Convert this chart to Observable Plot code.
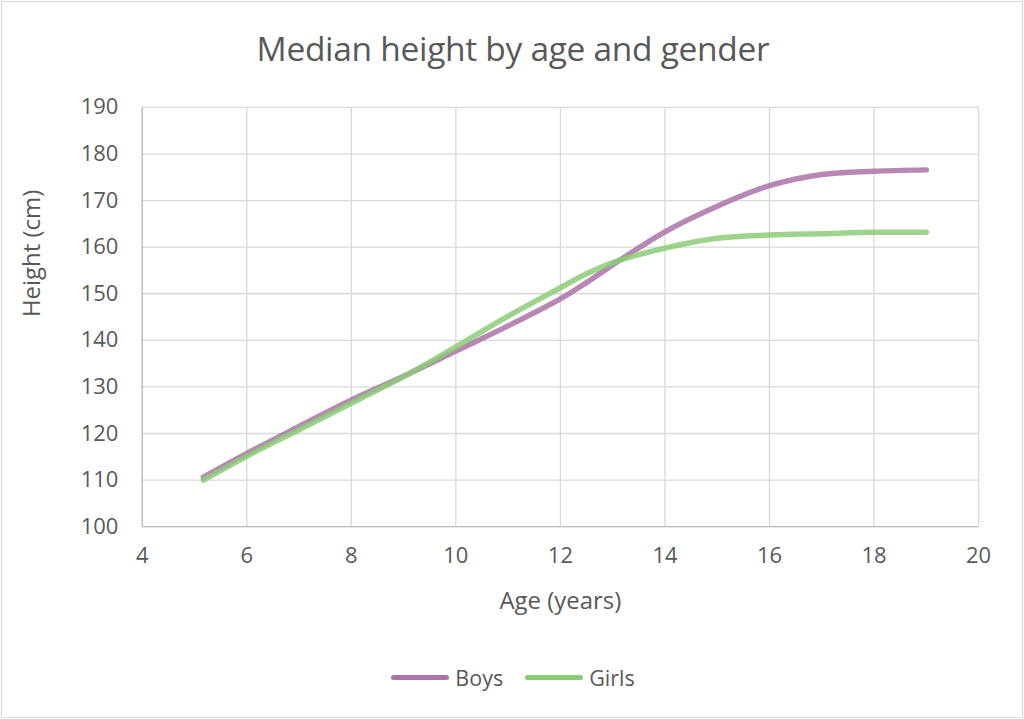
<!DOCTYPE html>
<html>
<head>
<meta charset="utf-8">
<script src="https://cdn.jsdelivr.net/npm/d3@7"></script>
<script src="https://cdn.jsdelivr.net/npm/@observablehq/plot@0.6"></script>
<style>
  html, body { margin: 0; padding: 0; background: #fff; }
  #wrap { position: relative; width: 1020px; height: 715px; margin: 1px 0 0 1px; border: 1px solid #d9d9d9; overflow: hidden; font-family: "Open Sans", sans-serif; color: #595959; }
  #title { position: absolute; left: 0; top: 0; width: 1022px; height: 92px; text-align: center; font-size: 33.5px; line-height: 92px; letter-spacing: -0.3px; }
  #chart { position: absolute; left: -2px; top: 88px; }
  #legend { position: absolute; left: 0; top: 660px; width: 1022px; height: 30px; display: flex; justify-content: center; align-items: center; font-size: 21.5px; }
  .item { display: flex; align-items: center; margin: 0 11px; }
  .swatch { width: 58px; height: 5px; border-radius: 3px; margin-right: 6px; }
</style>
</head>
<body>
<div id="wrap">
  <div id="title">Median height by age and gender</div>
  <div id="chart"></div>
  <div id="legend"></div>
</div>
<script>
const series = ["Boys", "Girls"];
const colors = ["#ab73a8", "#8ccb75"];
const ages  = [5.17, 6, 7, 8, 9, 10, 11, 12, 12.5, 13, 14, 15, 16, 17, 18, 19];
const boys  = [110.6, 115.7, 121.5, 127.2, 132.3, 137.7, 143.1, 148.9, 152.4, 156.2, 163.3, 168.8, 173.2, 175.6, 176.3, 176.6];
const girls = [110.0, 115.1, 120.8, 126.5, 132.2, 138.6, 145.2, 151.3, 154.3, 156.7, 159.8, 161.9, 162.6, 162.9, 163.2, 163.2];
const xTicks = [4, 6, 8, 10, 12, 14, 16, 18, 20];
const yTicks = [100, 110, 120, 130, 140, 150, 160, 170, 180, 190];

const data = [
  ...ages.map((a, i) => ({age: a, height: boys[i], gender: series[0]})),
  ...ages.map((a, i) => ({age: a, height: girls[i], gender: series[1]}))
];

const chart = Plot.plot({
  width: 1024,
  height: 540,
  marginLeft: 142,
  marginRight: 44,
  marginTop: 17,
  marginBottom: 103,
  style: { fontFamily: "Open Sans, sans-serif", color: "#595959", background: "transparent" },
  x: { domain: [4, 20] },
  y: { domain: [100, 190] },
  color: { domain: series, range: colors },
  marks: [
    Plot.gridX(xTicks, { stroke: "#d9d9d9", strokeOpacity: 1, strokeWidth: 1.3 }),
    Plot.gridY(yTicks, { stroke: "#d9d9d9", strokeOpacity: 1, strokeWidth: 1.3 }),
    Plot.ruleX([4], { stroke: "#bfbfbf", strokeWidth: 1.3 }),
    Plot.ruleY([100], { stroke: "#bfbfbf", strokeWidth: 1.3 }),
    Plot.axisX(xTicks, { tickSize: 0, tickPadding: 21, fontSize: 22, label: null, fill: "#595959" }),
    Plot.axisY(yTicks, { tickSize: 0, tickPadding: 24, fontSize: 22, label: null, fill: "#595959" }),
    Plot.text(["Age (years)"], { frameAnchor: "bottom", dy: 75, fontSize: 24, fill: "#595959", lineAnchor: "middle" }),
    Plot.text(["Height (cm)"], { frameAnchor: "left", dx: -110, rotate: -90, fontSize: 24, fill: "#595959" }),
    Plot.line(data, { x: "age", y: "height", stroke: "gender", z: "gender", curve: "catmull-rom", strokeWidth: 5.5, strokeLinecap: "round", strokeOpacity: 0.85 })
  ]
});
document.getElementById("chart").appendChild(chart);

const legend = document.getElementById("legend");
series.forEach((s, i) => {
  const item = document.createElement("div");
  item.className = "item";
  const sw = document.createElement("div");
  sw.className = "swatch";
  sw.style.background = colors[i];
  const label = document.createElement("span");
  label.textContent = s;
  item.appendChild(sw);
  item.appendChild(label);
  legend.appendChild(item);
});
</script>
</body>
</html>
